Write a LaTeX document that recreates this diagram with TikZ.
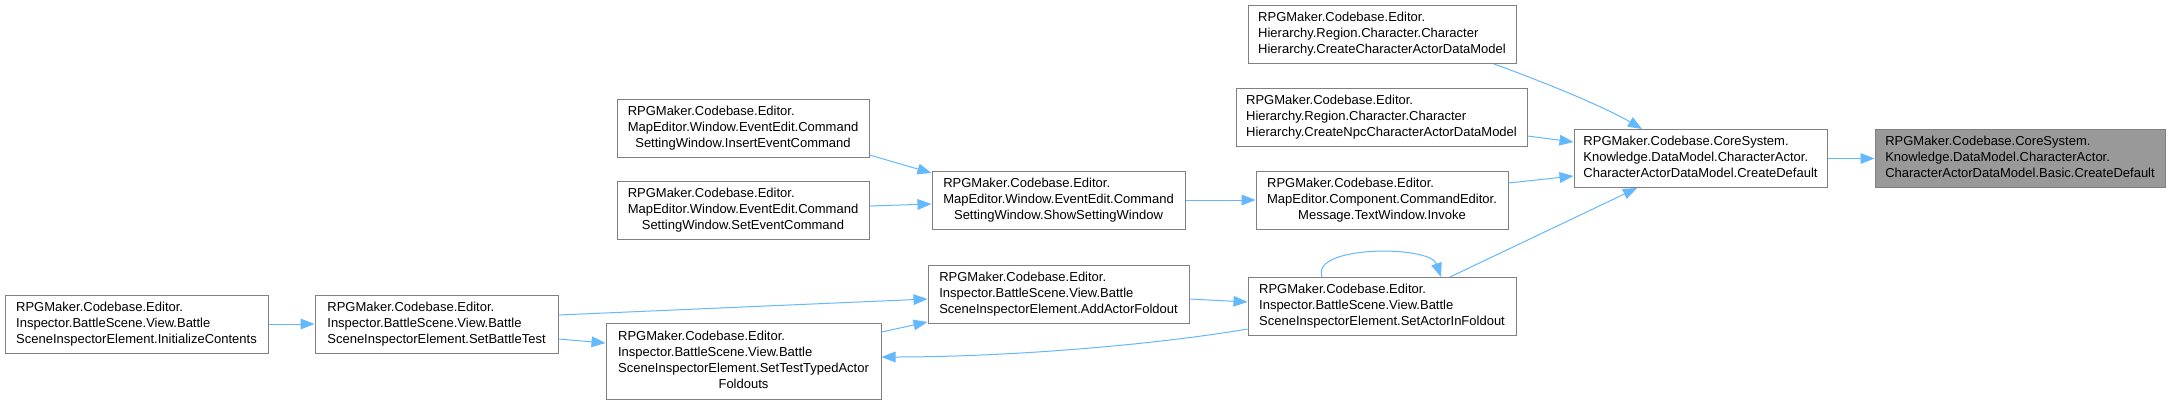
\documentclass[tikz,border=0pt]{standalone}
\usepackage{fontspec}
\setmainfont{Liberation Sans}
\usetikzlibrary{arrows.meta,calc}
\definecolor{edgeblue}{HTML}{63B8FF}
\definecolor{boxborder}{HTML}{808080}
\definecolor{hlfill}{HTML}{999999}
\newcommand\threeL[3]{\begin{tabular}{@{}l@{}}#1\\#2\\\multicolumn{1}{@{}c@{}}{#3}\end{tabular}}
\newcommand\fourL[4]{\begin{tabular}{@{}l@{}}#1\\#2\\#3\\\multicolumn{1}{@{}c@{}}{#4}\end{tabular}}
\begin{document}
\begin{tikzpicture}[x=0.75pt,y=-0.75pt,
  box/.style 2 args={draw=boxborder, line width=0.75pt, fill=white, inner sep=0pt,
    minimum width=#1*0.75pt, minimum height=#2*0.75pt, font=\fontsize{9.75}{12}\selectfont},
  edge/.style={draw=edgeblue, line width=0.75pt, -{Triangle[length=10.5pt,width=8pt]}}]
\fill[white] (0,0) rectangle (2170,404);
\useasboundingbox (0,0) rectangle (2170,404);

\node[box={263}{58}] (init) at (136.5,324) {\threeL{RPGMaker.Codebase.Editor.}{Inspector.BattleScene.View.Battle}{SceneInspectorElement.InitializeContents}};
\node[box={243}{58}] (battle) at (436.5,324) {\threeL{RPGMaker.Codebase.Editor.}{Inspector.BattleScene.View.Battle}{SceneInspectorElement.SetBattleTest}};
\node[box={252}{58}] (insert) at (743,128) {\threeL{RPGMaker.Codebase.Editor.}{MapEditor.Window.EventEdit.Command}{SettingWindow.InsertEventCommand}};
\node[box={252}{58}] (setevent) at (743,210.5) {\threeL{RPGMaker.Codebase.Editor.}{MapEditor.Window.EventEdit.Command}{SettingWindow.SetEventCommand}};
\node[box={275}{76}] (typed) at (743.5,361) {\fourL{RPGMaker.Codebase.Editor.}{Inspector.BattleScene.View.Battle}{SceneInspectorElement.SetTestTypedActor}{Foldouts}};
\node[box={253}{58}] (show) at (1058.5,200) {\threeL{RPGMaker.Codebase.Editor.}{MapEditor.Window.EventEdit.Command}{SettingWindow.ShowSettingWindow}};
\node[box={261}{58}] (add) at (1058.5,294.5) {\threeL{RPGMaker.Codebase.Editor.}{Inspector.BattleScene.View.Battle}{SceneInspectorElement.AddActorFoldout}};
\node[box={268}{58}] (cchar) at (1382,34.5) {\threeL{RPGMaker.Codebase.Editor.}{Hierarchy.Region.Character.Character}{Hierarchy.CreateCharacterActorDataModel}};
\node[box={291}{58}] (cnpc) at (1381.5,117.5) {\threeL{RPGMaker.Codebase.Editor.}{Hierarchy.Region.Character.Character}{Hierarchy.CreateNpcCharacterActorDataModel}};
\node[box={252}{58}] (invoke) at (1382,200) {\threeL{RPGMaker.Codebase.Editor.}{MapEditor.Component.CommandEditor.}{Message.TextWindow.Invoke}};
\node[box={268}{58}] (setactor) at (1382,306.5) {\threeL{RPGMaker.Codebase.Editor.}{Inspector.BattleScene.View.Battle}{SceneInspectorElement.SetActorInFoldout}};
\node[box={253}{58}] (cdef) at (1700.5,158.5) {\threeL{RPGMaker.Codebase.CoreSystem.}{Knowledge.DataModel.CharacterActor.}{CharacterActorDataModel.CreateDefault}};
\node[box={290}{58}, fill=hlfill] (basic) at (2020,158.5) {\threeL{RPGMaker.Codebase.CoreSystem.}{Knowledge.DataModel.CharacterActor.}{CharacterActorDataModel.Basic.CreateDefault}};

\draw[edge] (init.east) -- (battle.west);
\draw[edge] ($(battle.east)+(0,-9)$) -- ($(add.west)+(0,4.5)$);
\draw[edge] ($(battle.east)+(0,15)$) -- ($(typed.west)+(0,-18)$);
\draw[edge] ($(typed.east)+(0,-29)$) -- ($(add.west)+(0,27.5)$);
\draw[edge] ($(setactor.west)+(0,22.5)$) .. controls +(-100,17) and +(120,0) .. ($(typed.east)+(0,-4)$);
\draw[edge] ($(add.east)+(0,4.5)$) -- ($(setactor.west)+(0,-4.5)$);
\draw[edge] ($(setactor.north)+(-60,0)$) .. controls +(-12,-32) and +(-11,-32) .. ($(setactor.north)+(59,0)$);
\draw[edge] ($(setactor.north)+(68,0)$) -- ($(cdef.south)+(-63.5,0)$);
\draw[edge] ($(insert.east)+(0,27)$) -- ($(show.west)+(0,-27)$);
\draw[edge] ($(setevent.east)+(0,-4.5)$) -- ($(show.west)+(0,4)$);
\draw[edge] (show.east) -- (invoke.west);
\draw[edge] ($(cchar.south)+(112,0)$) .. controls +(66,24) and +(-32,-19) .. ($(cdef.north)+(-58.5,0)$);
\draw[edge] ($(cnpc.east)+(0,18.5)$) -- ($(cdef.west)+(0,-16.5)$);
\draw[edge] ($(invoke.east)+(0,-17)$) -- ($(cdef.west)+(0,17.5)$);
\draw[edge] (cdef.east) -- (basic.west);
\end{tikzpicture}
\end{document}
